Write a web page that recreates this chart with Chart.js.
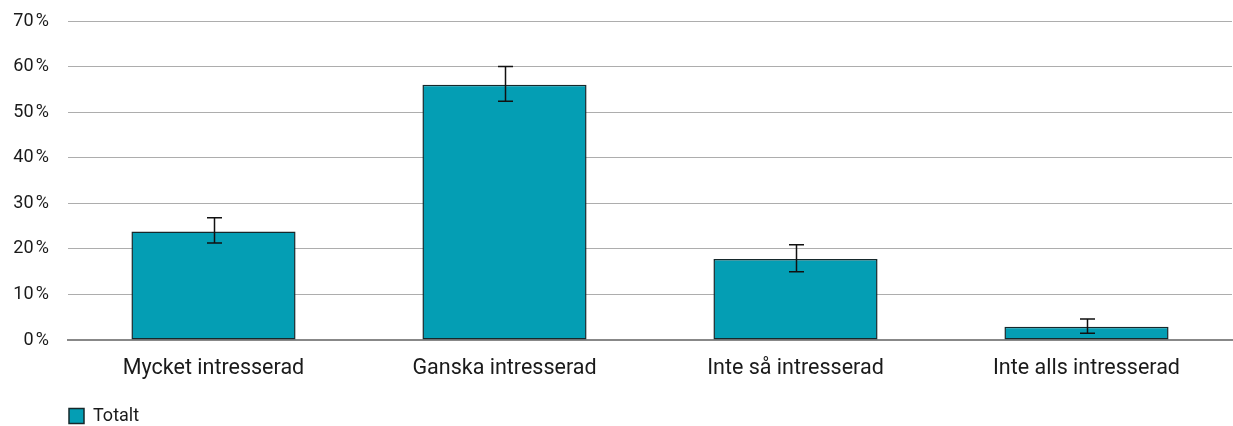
<!DOCTYPE html>
<html lang="sv">
<head>
<meta charset="UTF-8">
<title>Intresse</title>
<script src="https://cdn.jsdelivr.net/npm/chart.js"></script>
<style>
  html, body { margin: 0; padding: 0; background: #fff; }
  #wrap { width: 1233px; height: 426px; }
</style>
</head>
<body>
<div id="wrap"><canvas id="chart" width="1233" height="426"></canvas></div>
<script>
const categories = ['Mycket intresserad', 'Ganska intresserad', 'Inte så intresserad', 'Inte alls intresserad'];
const totalt = [23.8, 56.0, 17.8, 2.9];
const errLow = [21.3, 52.4, 15.0, 1.5];
const errHigh = [26.8, 60.0, 20.9, 4.6];

// draws the error bars on top of the bars
const errorBars = {
    id: 'errorBars',
    afterDatasetsDraw(chart) {
        const ctx = chart.ctx;
        const meta = chart.getDatasetMeta(0);
        const y = chart.scales.y;
        ctx.save();
        ctx.strokeStyle = '#111';
        ctx.lineWidth = 1.5;
        meta.data.forEach((bar, i) => {
            const x = Math.round(bar.x) + 0.5;
            const top = y.getPixelForValue(errHigh[i]);
            const bot = y.getPixelForValue(errLow[i]);
            ctx.beginPath();
            ctx.moveTo(x, top); ctx.lineTo(x, bot);
            ctx.moveTo(x - 7.5, top); ctx.lineTo(x + 7.5, top);
            ctx.moveTo(x - 7.5, bot); ctx.lineTo(x + 7.5, bot);
            ctx.stroke();
        });
        ctx.restore();
    }
};

new Chart(document.getElementById('chart'), {
    type: 'bar',
    data: {
        labels: categories,
        datasets: [{
            label: 'Totalt',
            data: totalt,
            backgroundColor: '#049eb4',
            borderColor: '#16282b',
            borderWidth: 1.5,
            borderSkipped: false,
            categoryPercentage: 0.564,
            barPercentage: 1
        }]
    },
    options: {
        responsive: false,
        animation: false,
        layout: { padding: { top: 21, right: 1, left: 0, bottom: 0 } },
        plugins: {
            legend: {
                position: 'bottom',
                align: 'start',
                fullSize: false,
                maxHeight: 20,
                labels: {
                    boxWidth: 15,
                    boxHeight: 15,
                    color: '#1a1a1a',
                    font: { family: 'Roboto', size: 18 },
                    padding: 1,
                    useBorderRadius: false
                }
            },
            tooltip: { enabled: false }
        },
        scales: {
            x: {
                grid: { display: false, drawTicks: false },
                border: { color: '#888', width: 2 },
                ticks: { color: '#1a1a1a', font: { family: 'Roboto', size: 21.5 }, padding: 16 },
                afterFit(s) { s.height = 66; }
            },
            y: {
                min: 0,
                max: 70,
                border: { display: false },
                grid: { color: '#adadad', lineWidth: 1, drawTicks: false },
                ticks: {
                    stepSize: 10,
                    color: '#1a1a1a',
                    font: { family: 'Roboto', size: 18 },
                    padding: 19,
                    callback: v => v + '\u202f%'
                },
                afterFit(s) {
                    s.width = 68;
                    s.paddingTop = 0;
                    s.paddingBottom = 0;
                }
            }
        }
    },
    plugins: [errorBars]
});
</script>
</body>
</html>
